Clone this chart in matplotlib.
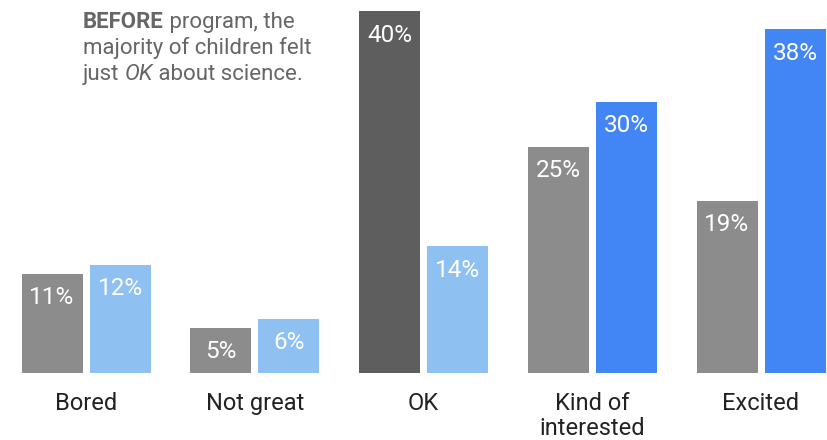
import matplotlib
matplotlib.use("Agg")
import matplotlib.pyplot as plt
import numpy as np

categories = ["Bored", "Not great", "OK", "Kind of\ninterested", "Excited"]
before = [11, 5, 40, 25, 19]
after = [12, 6, 14, 30, 38]

before_colors = ["#8c8c8c", "#8c8c8c", "#5e5e5e", "#8c8c8c", "#8c8c8c"]
after_colors = ["#8ec1f1", "#8ec1f1", "#8ec1f1", "#4285f4", "#4285f4"]

plt.rcParams["font.family"] = ["Roboto", "DejaVu Sans"]

W, H = 827, 440
fig = plt.figure(figsize=(W / 100, H / 100), dpi=100)
base_px = 373
ax = fig.add_axes([0, (H - base_px) / H, 1, base_px / H])
px_per_unit = 9.04
ax.set_ylim(0, base_px / px_per_unit)
spacing = 168.75
ax.set_xlim(-86 / spacing, (W - 86) / spacing)

x = np.arange(len(categories))
bw = 61 / spacing
off = 34 / spacing
b1 = ax.bar(x - off, before, width=bw, color=before_colors)
b2 = ax.bar(x + off, after, width=bw, color=after_colors)

for bars, vals in ((b1, before), (b2, after)):
    for r, v in zip(bars, vals):
        ax.annotate(f"{v}%", xy=(r.get_x() + r.get_width() / 2, v),
                    xytext=(0, -17), textcoords="offset points",
                    ha="center", va="center", color="white", fontsize=17.5)

ax.set_xticks(x)
ax.set_xticklabels(categories, fontsize=17, color="#222222", linespacing=1.15)
ax.tick_params(axis="x", length=0, pad=13.5)
ax.set_yticks([])
for s in ax.spines.values():
    s.set_visible(False)

# annotation text
tc = "#666666"
fs = 16
x0 = 83 / W
t1 = fig.text(x0, 1 - 28 / H, "BEFORE", fontsize=fs, color=tc, fontweight="bold", va="baseline")
ax.annotate(" program, the", xy=(1, 0), xycoords=t1, va="bottom", ha="left", fontsize=fs, color=tc)
fig.text(x0, 1 - 54 / H, "majority of children felt", fontsize=fs, color=tc, va="baseline")
t3 = fig.text(x0, 1 - 80 / H, "just ", fontsize=fs, color=tc, va="baseline")
t4 = ax.annotate("OK", xy=(1, 0), xycoords=t3, va="bottom", ha="left", fontsize=fs, color=tc, style="italic")
ax.annotate(" about science.", xy=(1, 0), xycoords=t4, va="bottom", ha="left", fontsize=fs, color=tc)

fig.savefig("out.png", dpi=100)
